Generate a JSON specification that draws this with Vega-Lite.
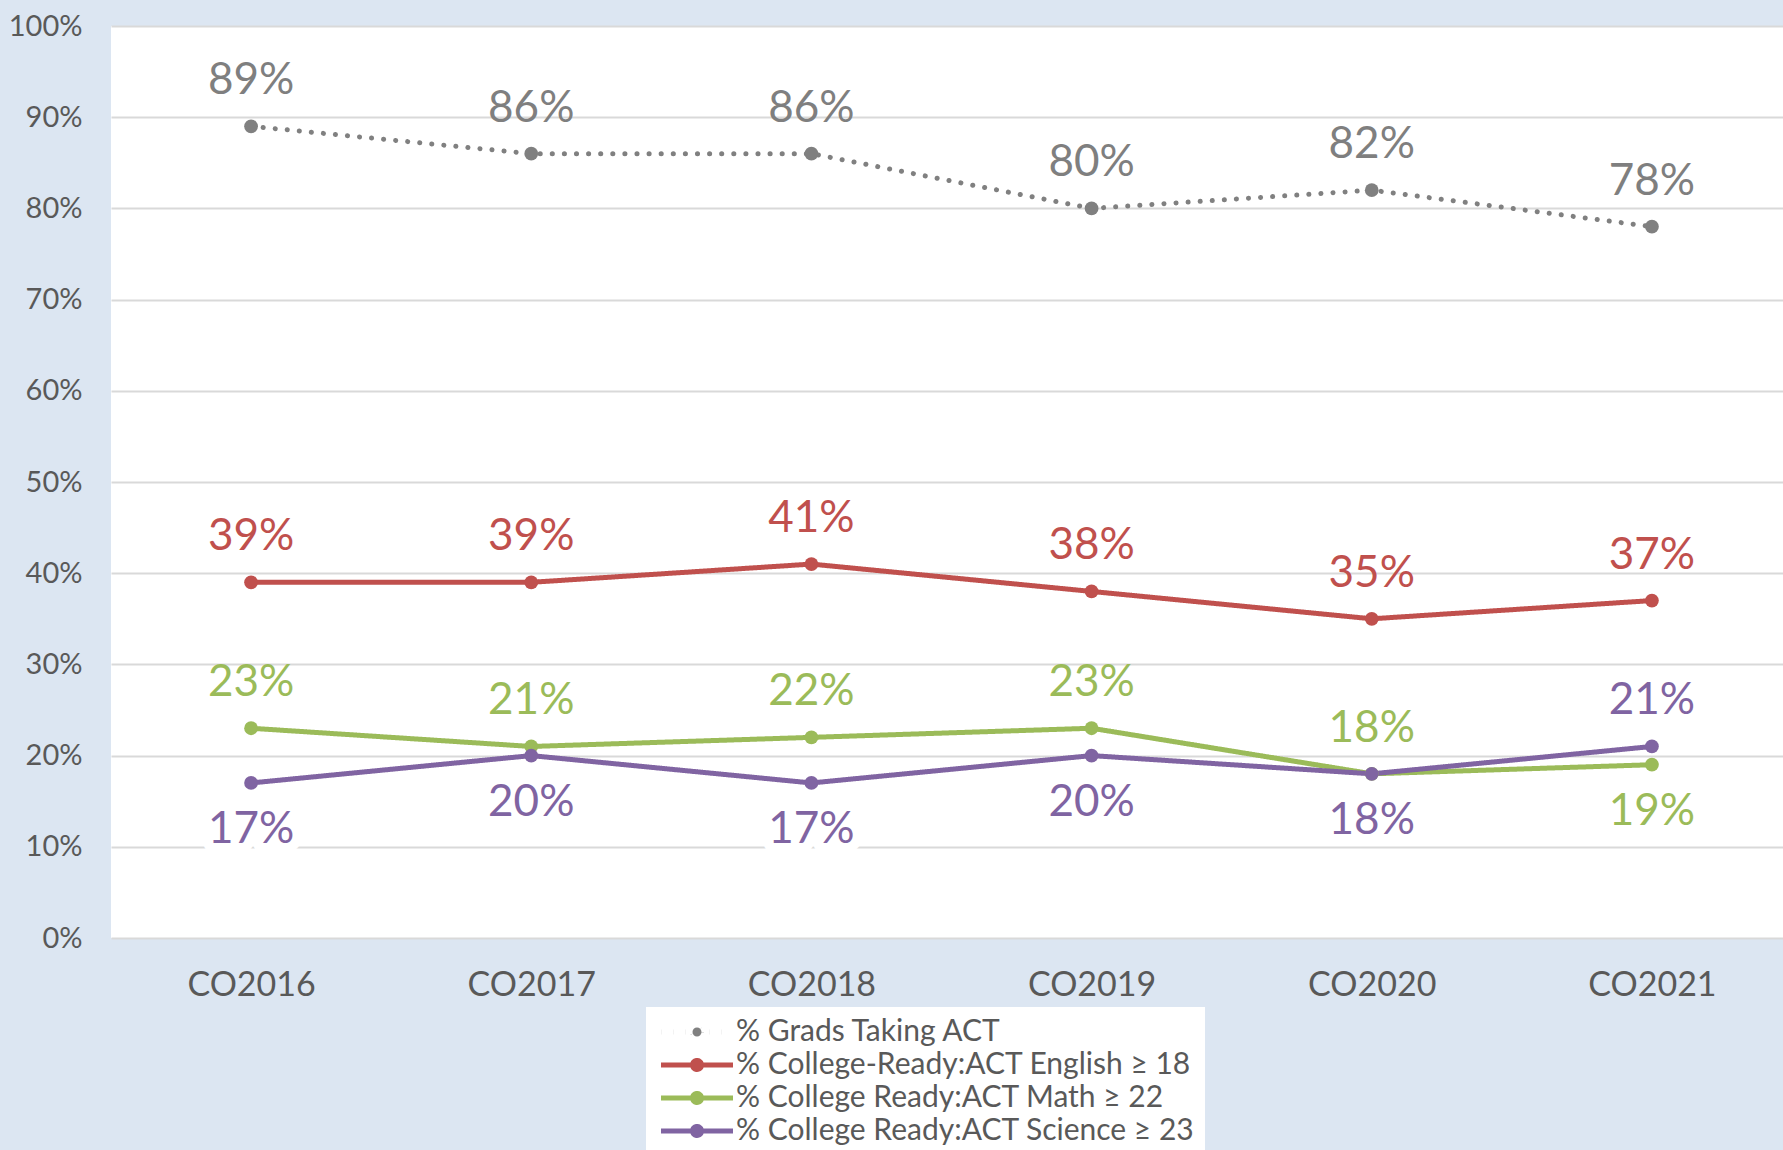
{
  "$schema": "https://vega.github.io/schema/vega-lite/v6.json",
  "autosize": {"type": "none"},
  "width": 1681,
  "height": 912,
  "padding": {"left": 111, "top": 26, "right": -9, "bottom": 212},
  "background": "#DCE6F2",
  "config": {
    "view": {"fill": "white", "stroke": null},
    "font": "Lato",
    "axis": {"domain": false, "ticks": false, "labelFont": "Lato", "labelColor": "#595959", "gridColor": "#D9D9D9", "gridWidth": 2, "title": null},
    "legend": {
      "orient": "none", "legendX": 535, "legendY": 981, "direction": "vertical",
      "fillColor": "white", "padding": 10, "title": null,
      "symbolType": "M-1,0L6.2,0M3.05,0A0.45,0.45,0,1,1,2.15,0A0.45,0.45,0,1,1,3.05,0M2.75,0A0.15,0.15,0,1,1,2.45,0A0.15,0.15,0,1,1,2.75,0",
      "symbolSize": 400, "symbolStrokeWidth": 5,
      "labelFont": "Lato", "labelFontSize": 30, "labelColor": "#595959", "labelOffset": 50, "labelLimit": 1000,
      "rowPadding": 3
    }
  },
  "data": {
    "values": [
      {"year": "CO2016", "series": "% Grads Taking ACT", "value": 0.89},
      {"year": "CO2017", "series": "% Grads Taking ACT", "value": 0.86},
      {"year": "CO2018", "series": "% Grads Taking ACT", "value": 0.86},
      {"year": "CO2019", "series": "% Grads Taking ACT", "value": 0.80},
      {"year": "CO2020", "series": "% Grads Taking ACT", "value": 0.82},
      {"year": "CO2021", "series": "% Grads Taking ACT", "value": 0.78},
      {"year": "CO2016", "series": "% College-Ready:ACT English ≥ 18", "value": 0.39},
      {"year": "CO2017", "series": "% College-Ready:ACT English ≥ 18", "value": 0.39},
      {"year": "CO2018", "series": "% College-Ready:ACT English ≥ 18", "value": 0.41},
      {"year": "CO2019", "series": "% College-Ready:ACT English ≥ 18", "value": 0.38},
      {"year": "CO2020", "series": "% College-Ready:ACT English ≥ 18", "value": 0.35},
      {"year": "CO2021", "series": "% College-Ready:ACT English ≥ 18", "value": 0.37},
      {"year": "CO2016", "series": "% College Ready:ACT Math ≥ 22", "value": 0.23},
      {"year": "CO2017", "series": "% College Ready:ACT Math ≥ 22", "value": 0.21},
      {"year": "CO2018", "series": "% College Ready:ACT Math ≥ 22", "value": 0.22},
      {"year": "CO2019", "series": "% College Ready:ACT Math ≥ 22", "value": 0.23},
      {"year": "CO2020", "series": "% College Ready:ACT Math ≥ 22", "value": 0.18},
      {"year": "CO2021", "series": "% College Ready:ACT Math ≥ 22", "value": 0.19},
      {"year": "CO2016", "series": "% College Ready:ACT Science ≥ 23", "value": 0.17},
      {"year": "CO2017", "series": "% College Ready:ACT Science ≥ 23", "value": 0.20},
      {"year": "CO2018", "series": "% College Ready:ACT Science ≥ 23", "value": 0.17},
      {"year": "CO2019", "series": "% College Ready:ACT Science ≥ 23", "value": 0.20},
      {"year": "CO2020", "series": "% College Ready:ACT Science ≥ 23", "value": 0.18},
      {"year": "CO2021", "series": "% College Ready:ACT Science ≥ 23", "value": 0.21}
    ]
  },
  "encoding": {
    "x": {"field": "year", "type": "ordinal", "scale": {"type": "point", "padding": 0.5},
          "axis": {"labelFontSize": 34, "labelPadding": 30, "labelAngle": 0, "grid": false}},
    "y": {"field": "value", "type": "quantitative", "scale": {"domain": [0, 1]},
          "axis": {"values": [0, 0.1, 0.2, 0.3, 0.4, 0.5, 0.6, 0.7, 0.8, 0.9, 1], "format": ".0%", "labelFontSize": 29, "labelPadding": 29, "grid": true}}
  },
  "layer": [
    {
      "mark": {"type": "line", "strokeWidth": 5, "strokeCap": "round"},
      "encoding": {
        "color": {"field": "series", "type": "nominal",
          "scale": {"domain": ["% Grads Taking ACT", "% College-Ready:ACT English ≥ 18", "% College Ready:ACT Math ≥ 22", "% College Ready:ACT Science ≥ 23"],
                    "range": ["#808080", "#C0504D", "#9BBB59", "#8064A2"]},
          "legend": {"orient": "none", "legendX": 535, "legendY": 981, "title": null}},
        "strokeDash": {"field": "series", "type": "nominal",
          "scale": {"domain": ["% Grads Taking ACT", "% College-Ready:ACT English ≥ 18", "% College Ready:ACT Math ≥ 22", "% College Ready:ACT Science ≥ 23"],
                    "range": [[0.1, 12], [1, 0], [1, 0], [1, 0]]},
          "legend": {"orient": "none", "legendX": 535, "legendY": 981, "title": null}}
      }
    },
    {
      "mark": {"type": "point", "filled": true, "size": 190, "opacity": 1},
      "encoding": {
        "color": {"field": "series", "type": "nominal"}
      }
    },
    {
      "transform": [{"filter": "indexof(datum.series, 'Science') >= 0 && datum.year !== 'CO2021'"}],
      "mark": {"type": "text", "dy": 47, "fontSize": 44, "baseline": "middle", "fill": "white", "stroke": "white", "strokeWidth": 20, "strokeJoin": "round"},
      "encoding": {"text": {"field": "value", "type": "quantitative", "format": ".0%"}}
    },
    {
      "transform": [{"filter": "!((indexof(datum.series, 'Science') >= 0 && datum.year !== 'CO2021') || (indexof(datum.series, 'Math') >= 0 && datum.year === 'CO2021'))"}],
      "mark": {"type": "text", "dy": -45, "fontSize": 44, "baseline": "middle"},
      "encoding": {
        "text": {"field": "value", "type": "quantitative", "format": ".0%"},
        "fill": {"field": "series", "type": "nominal", "legend": null,
          "scale": {"domain": ["% Grads Taking ACT", "% College-Ready:ACT English ≥ 18", "% College Ready:ACT Math ≥ 22", "% College Ready:ACT Science ≥ 23"],
                    "range": ["#7F7F7F", "#C0504D", "#9BBB59", "#8064A2"]}}
      }
    },
    {
      "transform": [{"filter": "(indexof(datum.series, 'Science') >= 0 && datum.year !== 'CO2021') || (indexof(datum.series, 'Math') >= 0 && datum.year === 'CO2021')"}],
      "mark": {"type": "text", "dy": 47, "fontSize": 44, "baseline": "middle"},
      "encoding": {
        "text": {"field": "value", "type": "quantitative", "format": ".0%"},
        "fill": {"field": "series", "type": "nominal", "legend": null}
      }
    }
  ]
}
